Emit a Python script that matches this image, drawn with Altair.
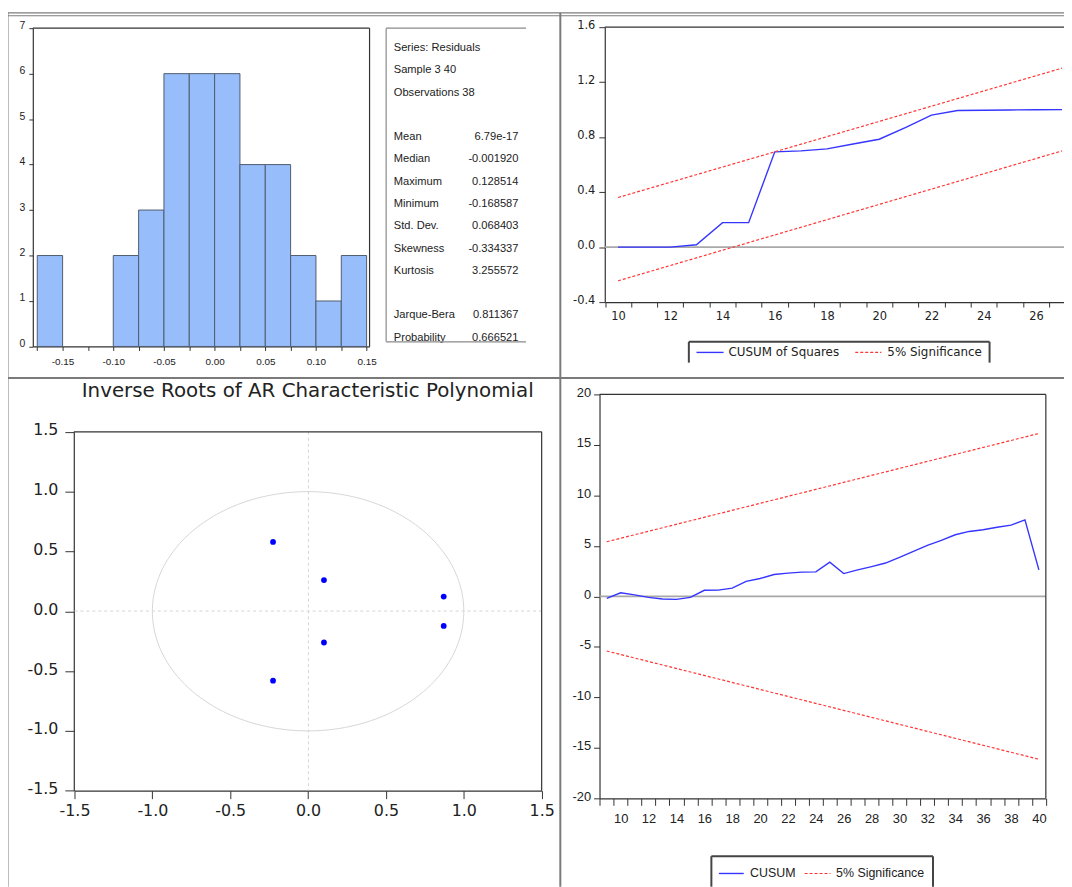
import altair as alt
import pandas as pd
import numpy as np

# ---------------- data ----------------
hist_lo = [-0.175, -0.15, -0.125, -0.1, -0.075, -0.05, -0.025, 0.0, 0.025, 0.05, 0.075, 0.1, 0.125]
hist_hi = [-0.15, -0.125, -0.1, -0.075, -0.05, -0.025, 0.0, 0.025, 0.05, 0.075, 0.1, 0.125, 0.15]
hist_count = [2, 0, 0, 2, 3, 6, 6, 6, 4, 4, 2, 1, 2]
hist_xticks = [-0.175, -0.15, -0.125, -0.1, -0.075, -0.05, -0.025, 0.0, 0.025, 0.05, 0.075, 0.1, 0.125, 0.15]
hist_yticks = [0, 1, 2, 3, 4, 5, 6, 7]

stat_labels = ["Series: Residuals", "Sample 3 40", "Observations 38",
               "Mean", "Median", "Maximum", "Minimum", "Std. Dev.", "Skewness", "Kurtosis",
               "Jarque-Bera", "Probability"]
stat_values = ["", "", "",
               "6.79e-17", "-0.001920", "0.128514", "-0.168587", "0.068403", "-0.334337", "3.255572",
               "0.811367", "0.666521"]
stat_rows = [0, 1, 2, 4, 5, 6, 7, 8, 9, 10, 12, 13]

cusumsq_t = [10, 11, 12, 13, 14, 15, 16, 17, 18, 19, 20, 21, 22, 23, 24, 25, 26, 27]
cusumsq_v = [0.0, 0.0, 0.0, 0.017, 0.178, 0.178, 0.693, 0.700, 0.715, 0.750, 0.785,
             0.870, 0.960, 0.994, 0.996, 0.998, 0.999, 1.0]
cusumsq_band_t = [10, 27]
cusumsq_upper = [0.361, 1.302]
cusumsq_lower = [-0.245, 0.700]
cusumsq_yticks = [-0.4, 0.0, 0.4, 0.8, 1.2, 1.6]
cusumsq_xlabels = [10, 12, 14, 16, 18, 20, 22, 24, 26]

root_re = [-0.225, -0.225, 0.102, 0.102, 0.871, 0.871]
root_im = [0.580, -0.580, 0.261, -0.261, 0.123, -0.123]
root_ticks = [-1.5, -1.0, -0.5, 0.0, 0.5, 1.0, 1.5]

cusum_t = list(range(9, 41))
cusum_v = [-0.2, 0.35, 0.15, -0.1, -0.26, -0.3, -0.1, 0.6, 0.62, 0.82, 1.48, 1.77,
           2.16, 2.3, 2.4, 2.43, 3.38, 2.26, 2.62, 2.95, 3.3, 3.87, 4.46, 5.05,
           5.54, 6.1, 6.43, 6.6, 6.85, 7.05, 7.57, 2.62]
cusum_band_t = [9, 40]
cusum_upper = [5.41, 16.13]
cusum_lower = [-5.41, -16.13]
cusum_yticks = [-20, -15, -10, -5, 0, 5, 10, 15, 20]
cusum_xlabels = list(range(10, 41, 2))

# ---------------- layout helpers ----------------
W, H, OFF = 1064, 879, 8
SANS = "Liberation Sans, Arial, sans-serif"
WIDE = "DejaVu Sans, Verdana, sans-serif"
BLUE = "#3535ff"
RED = "#ff3535"
INK = "#222222"


def P(v):
    return v - OFF


def fmt(spec):
    return f"replace(format(datum.value, '{spec}'), '\u2212', '-')"


def common(font, size):
    return dict(title=None, grid=False, labelFlush=False, labelOverlap=False,
                domainColor="#333333", domainWidth=1.2, tickColor="#333333", tickWidth=1,
                labelFont=font, labelFontSize=size, labelColor=INK)


def ax_bottom(y_ref, font, size, **kw):
    d = common(font, size)
    d.update(kw)
    return alt.Axis(orient="bottom", offset=P(y_ref) - H, **d)


def ax_left(x_ref, font, size, **kw):
    d = common(font, size)
    d.update(kw)
    return alt.Axis(orient="left", offset=-P(x_ref), **d)


def segs(rows, color, width, dash=None):
    df = pd.DataFrame(rows, columns=["x1", "y1", "x2", "y2"]) - OFF
    kw = dict(color=color, strokeWidth=width)
    if dash:
        kw["strokeDash"] = dash
    return alt.Chart(df).mark_rule(**kw).encode(
        x=alt.X("x1:Q", scale=None, axis=None), y=alt.Y("y1:Q", scale=None, axis=None),
        x2="x2:Q", y2="y2:Q")


def label(text, x_ref, y_ref, font, size, align="left", baseline="middle"):
    return alt.Chart(pd.DataFrame({"t": [text]})).mark_text(
        align=align, baseline=baseline, font=font, fontSize=size, color=INK
    ).encode(x=alt.value(P(x_ref)), y=alt.value(P(y_ref)), text="t:N")


layers = []

# ---------------- panel frames / separators ----------------
layers.append(segs([(0, 9.5, 1072, 9.5), (0, 12.5, 1072, 12.5)], "#7d7d7d", 1.2))
layers.append(segs([(564.5, 9.5, 564.5, 890), (0, 377.5, 1072, 377.5), (7.5, 9.5, 7.5, 890)], "#7a7a7a", 2))

# ---------------- histogram ----------------
hist_df = pd.DataFrame({"lo": hist_lo, "hi": hist_hi, "n": hist_count, "base": 0})
hx = alt.Scale(domain=[-0.1794, 0.1529], range=[P(33), P(372.3)], nice=False, zero=False)
hy = alt.Scale(domain=[0, 7], range=[P(345.7), P(25)], nice=False)
layers.append(
    alt.Chart(hist_df).transform_filter("datum.n > 0").mark_rect(
        fill="#97bdfa", stroke="#4f5d70", strokeWidth=1
    ).encode(
        x=alt.X("lo:Q", scale=hx, axis=ax_bottom(
            345.7, SANS, 10, values=hist_xticks, tickSize=4, labelPadding=6,
            labelExpr="abs(round(datum.value*1000)) % 50 == 0 ? " + fmt(".2f") + " : ''")),
        x2="hi:Q",
        y=alt.Y("n:Q", scale=hy, axis=ax_left(33, SANS, 10.5, values=hist_yticks, tickSize=4,
                                               labelPadding=4, labelOffset=-3, labelExpr=fmt("d"))),
        y2="base:Q",
    )
)
layers.append(segs([(33, 25, 372.3, 25), (372.3, 25, 372.3, 345.7)], "#333333", 1.2))

# ---------------- statistics box ----------------
stat_df = pd.DataFrame({"label": stat_labels, "value": stat_values, "row": stat_rows})
sy = alt.Scale(domain=[0, 13], range=[P(45), P(336.9)], nice=False, zero=False)
layers.append(alt.Chart(stat_df).mark_text(align="left", baseline="middle", font=SANS,
                                           fontSize=11.2, color=INK).encode(
    x=alt.value(P(396.7)), y=alt.Y("row:Q", scale=sy, axis=None), text="label:N"))
layers.append(alt.Chart(stat_df).mark_text(align="right", baseline="middle", font=SANS,
                                           fontSize=11.2, color=INK).encode(
    x=alt.value(P(522.3)), y=alt.Y("row:Q", scale=sy, axis=None), text="value:N"))
layers.append(segs([(389, 25, 530, 25), (389, 25, 389, 341), (389, 341, 530, 341)], "#8a8a8a", 1.2))

# ---------------- CUSUM of squares ----------------
qx = alt.Scale(domain=[9.491, 27.075], range=[P(609.3), P(1072)], nice=False, zero=False)
qy = alt.Scale(domain=[-0.4, 1.6], range=[P(301), P(24)], nice=False, zero=False)
layers.append(alt.Chart(pd.DataFrame({"y0": [0.0]})).mark_rule(color="#a8a8a8", strokeWidth=2).encode(
    x=alt.value(P(609.3)), x2=alt.value(P(1072)), y=alt.Y("y0:Q", scale=qy, axis=None)))
cq_df = pd.DataFrame({"t": cusumsq_t, "v": cusumsq_v})
layers.append(alt.Chart(cq_df).mark_line(color=BLUE, strokeWidth=1.4).encode(
    x=alt.X("t:Q", scale=qx, axis=ax_bottom(301, WIDE, 11.5, values=[i + 0.5 for i in range(9, 27)],
                                             labels=False, tickSize=5)),
    y=alt.Y("v:Q", scale=qy, axis=ax_left(609.3, WIDE, 11.5, values=cusumsq_yticks, tickSize=6,
                                          labelPadding=4, labelOffset=-2, labelExpr=fmt(".1f")))))
cqb_df = pd.DataFrame({"t": cusumsq_band_t * 2, "v": cusumsq_upper + cusumsq_lower,
                       "side": ["up", "up", "lo", "lo"]})
layers.append(alt.Chart(cqb_df).mark_line(color=RED, strokeWidth=1.2, strokeDash=[3, 2]).encode(
    x=alt.X("t:Q", scale=qx, axis=ax_bottom(301, WIDE, 11.5, values=cusumsq_xlabels, domain=False,
                                             tickSize=5, tickOpacity=0, labelPadding=4)),
    y=alt.Y("v:Q", scale=qy, axis=None), detail="side:N"))
layers.append(segs([(609.3, 24, 1072, 24)], "#333333", 1.2))
layers.append(segs([(694, 341, 997, 341), (694, 341, 694, 362), (997, 341, 997, 362)], "#444444", 2))
layers.append(segs([(701.7, 351.7, 729, 351.7)], BLUE, 1.4))
layers.append(segs([(861.7, 351.7, 888, 351.7)], RED, 1.2, [3, 2]))
layers.append(label("CUSUM of Squares", 734, 351.7, WIDE, 12))
layers.append(label("5% Significance", 894, 351.7, WIDE, 12))

# ---------------- inverse roots ----------------
rx = alt.Scale(domain=[-1.5, 1.5], range=[P(75), P(545.7)], nice=False, zero=False)
ry = alt.Scale(domain=[-1.5, 1.5], range=[P(793.3), P(431.7)], nice=False, zero=False)
theta = np.linspace(0, 2 * np.pi, 241)
circ_df = pd.DataFrame({"i": np.arange(len(theta)), "cx": np.cos(theta), "cy": np.sin(theta)})
layers.append(segs([(310.7, 431.7, 310.7, 793.3), (75, 612.3, 545.7, 612.3)], "#d4d4d4", 1, [3, 3]))
layers.append(alt.Chart(circ_df).mark_line(color="#d6d6d6", strokeWidth=1).encode(
    x=alt.X("cx:Q", scale=rx, axis=None), y=alt.Y("cy:Q", scale=ry, axis=None), order="i:Q"))
roots_df = pd.DataFrame({"re": root_re, "im": root_im})
layers.append(alt.Chart(roots_df).mark_circle(color="#0000ff", opacity=1, size=34).encode(
    x=alt.X("re:Q", scale=rx, axis=ax_bottom(793.3, WIDE, 16, values=root_ticks, tickSize=8,
                                              labelPadding=4, labelExpr=fmt(".1f"))),
    y=alt.Y("im:Q", scale=ry, axis=ax_left(74.3, WIDE, 16, values=root_ticks, tickSize=9,
                                           labelPadding=7, labelOffset=-2, labelExpr=fmt(".1f")))))
layers.append(segs([(74.3, 431.7, 545.7, 431.7), (545.7, 431.7, 545.7, 793.3)], "#333333", 1.2))
layers.append(label("Inverse Roots of AR Characteristic Polynomial", 310, 396.7, WIDE, 20,
                    align="center", baseline="alphabetic"))

# ---------------- CUSUM ----------------
cx = alt.Scale(domain=[8.484, 40.498], range=[P(604), P(1053.7)], nice=False, zero=False)
cy = alt.Scale(domain=[-20, 20], range=[P(801), P(394)], nice=False, zero=False)
layers.append(alt.Chart(pd.DataFrame({"y0": [0.0]})).mark_rule(color="#a8a8a8", strokeWidth=2).encode(
    x=alt.value(P(604)), x2=alt.value(P(1053.7)), y=alt.Y("y0:Q", scale=cy, axis=None)))
c_df = pd.DataFrame({"t": cusum_t, "v": cusum_v})
layers.append(alt.Chart(c_df).mark_line(color=BLUE, strokeWidth=1.4).encode(
    x=alt.X("t:Q", scale=cx, axis=ax_bottom(801, SANS, 13, values=[i + 0.5 for i in range(8, 41)],
                                             labels=False, tickSize=7)),
    y=alt.Y("v:Q", scale=cy, axis=ax_left(604, SANS, 13, values=cusum_yticks, tickSize=6,
                                          labelPadding=3, labelOffset=-2, labelExpr=fmt("d")))))
cb_df = pd.DataFrame({"t": cusum_band_t * 2, "v": cusum_upper + cusum_lower,
                      "side": ["up", "up", "lo", "lo"]})
layers.append(alt.Chart(cb_df).mark_line(color=RED, strokeWidth=1.2, strokeDash=[3, 2]).encode(
    x=alt.X("t:Q", scale=cx, axis=ax_bottom(801, SANS, 13, values=cusum_xlabels, domain=False,
                                             tickSize=7, tickOpacity=0, labelPadding=7)),
    y=alt.Y("v:Q", scale=cy, axis=None), detail="side:N"))
layers.append(segs([(604, 394, 1053.7, 394), (1053.7, 394, 1053.7, 801)], "#333333", 1.2))
layers.append(segs([(716.7, 859.3, 940, 859.3), (716.7, 859.3, 716.7, 890), (940, 859.3, 940, 890)],
                   "#444444", 2))
layers.append(segs([(724.3, 876.7, 749.3, 876.7)], BLUE, 1.4))
layers.append(segs([(810.7, 876.7, 836.7, 876.7)], RED, 1.2, [3, 2]))
layers.append(label("CUSUM", 755.7, 876.7, SANS, 12.5))
layers.append(label("5% Significance", 842.3, 876.7, SANS, 12.5))

chart = alt.layer(*layers).resolve_scale(x="independent", y="independent").resolve_axis(
    x="independent", y="independent"
).properties(
    width=W, height=H, autosize=alt.AutoSizeParams(type="none"), padding=0, background="white"
).configure_view(strokeWidth=0)

chart.save("out.html", embed_options={"renderer": "svg", "actions": False})
